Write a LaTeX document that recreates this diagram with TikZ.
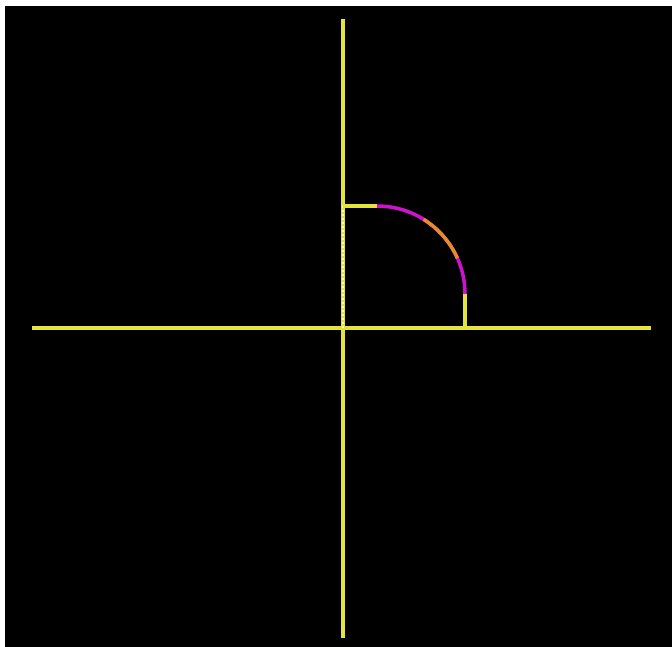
\documentclass[tikz,border=0pt]{standalone}
\usepackage{tikz}
\usetikzlibrary{positioning}
\definecolor{axisyellow}{RGB}{228,228,60}
\definecolor{arcmagenta}{RGB}{205,20,205}
\definecolor{arcorange}{RGB}{232,140,40}
\tikzset{
  axisline/.style={line width=3.5pt,axisyellow},
  pathline/.style={line width=3.5pt,axisyellow},
  arcline/.style={line width=3.5pt,arcmagenta},
  midarc/.style={line width=3.5pt,arcorange},
  guide/.style={line width=1.2pt,white!80!yellow,dash pattern=on 1.5pt off 2.5pt}
}
\begin{document}
\begin{tikzpicture}[x=1pt,y=1pt]
      \useasboundingbox (-343,-319) rectangle (329,328);
      \fill[white] (-343,-319) rectangle (329,328);
      \fill[black] (-338,-319) rectangle (329,322);
      % axes
      \coordinate (west) at (-311,0); \coordinate (east) at (308,0);
      \coordinate (north) at (0,309); \coordinate (south) at (0,-310);
      \draw[axisline] (west) -- (east); \draw[axisline] (north) -- (south);
      % rounded corner path
      \coordinate (o) at (0,0); \coordinate (top) at (0,122);
      \coordinate (p1) at (34,122); \coordinate (p2) at (122,34); \coordinate (foot) at (122,0);
      \draw[guide] (o) -- (top);
      \draw[pathline] (top) -- (p1); \draw[pathline] (p2) -- (foot);
      \draw[arcline] (p1) arc[start angle=90,end angle=0,radius=88];
      \draw[midarc] ([shift={(34,34)}]58:88) arc[start angle=58,end angle=24,radius=88];
    \end{tikzpicture}
\end{document}
